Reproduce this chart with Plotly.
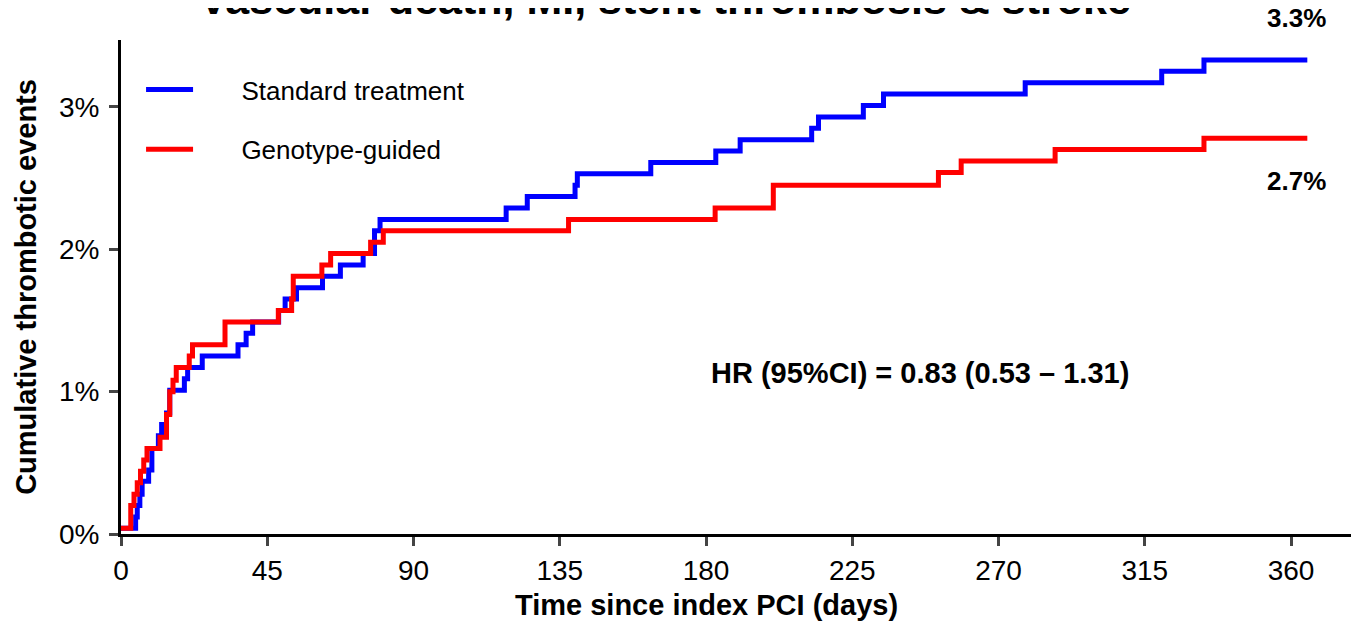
import plotly.graph_objects as go

# Standard treatment (blue) step curve: days, cumulative %
std_days = [0, 4.5, 5.0, 5.8, 6.5, 8.5, 9.5, 11.5, 12.5, 14, 15, 19.5, 20.5, 25, 36, 38.5, 40.5,
            48.5, 50.5, 54, 62, 67.5, 74.5, 78, 79.7, 118.5, 125, 139.7, 140.4, 163, 183,
            190.5, 212.5, 214.6, 228.4, 234.6, 278.2, 320.2, 333.2, 365]
std_pct = [0.04, 0.12, 0.20, 0.28, 0.37, 0.45, 0.60, 0.69, 0.77, 0.85, 1.01, 1.09, 1.17, 1.25,
           1.33, 1.41, 1.49, 1.57, 1.65, 1.73, 1.81, 1.89, 1.97, 2.13, 2.21, 2.29, 2.37, 2.45,
           2.53, 2.61, 2.69, 2.77, 2.85, 2.93, 3.01, 3.09, 3.17, 3.25, 3.33, 3.33]

# Genotype-guided (red) step curve
gen_days = [0, 3, 4, 5, 6, 7, 8, 12, 14, 15, 16, 17, 21, 22, 32, 48.4, 52.5, 53, 61.8, 64.5,
            76.8, 80.7, 137.7, 182.8, 200.7, 251.5, 258.5, 287.4, 333.2, 365]
gen_pct = [0.04, 0.20, 0.28, 0.36, 0.44, 0.52, 0.60, 0.68, 0.84, 1.00, 1.08, 1.17, 1.25, 1.33,
           1.49, 1.57, 1.65, 1.81, 1.89, 1.97, 2.05, 2.13, 2.21, 2.29, 2.45, 2.54, 2.62, 2.70,
           2.78, 2.78]

x_ticks = [0, 45, 90, 135, 180, 225, 270, 315, 360]
y_ticks = [0, 1, 2, 3]
y_tick_labels = ["0%", "1%", "2%", "3%"]

FONT = "Arial, Liberation Sans, sans-serif"

fig = go.Figure()
fig.add_trace(go.Scatter(x=std_days, y=std_pct, mode="lines", line_shape="hv",
                         line=dict(color="#0000FF", width=5),
                         name="      Standard treatment", legendgroup="a"))
fig.add_trace(go.Scatter(x=gen_days, y=gen_pct, mode="lines", line_shape="hv",
                         line=dict(color="#FF0000", width=5),
                         name="      Genotype-guided", legendgroup="b"))

fig.update_layout(
    width=1351, height=615,
    margin=dict(l=113, r=0, t=32, b=89),
    plot_bgcolor="white", paper_bgcolor="white",
    font=dict(family=FONT, color="black"),
    showlegend=True,
    legend=dict(x=0.0162, y=0.9474, xanchor="left", yanchor="top", font=dict(size=26),
                bgcolor="rgba(0,0,0,0)", tracegroupgap=23, itemwidth=47),
    xaxis=dict(range=[0, 380.9], tickvals=x_ticks, ticks="outside", ticklen=9, tickwidth=3,
               showline=True, linewidth=3, linecolor="black", showgrid=False, zeroline=False,
               tickfont=dict(size=28), automargin=False),
    yaxis=dict(range=[0, 3.47], tickvals=y_ticks, ticktext=y_tick_labels, ticks="outside",
               ticklen=9, tickwidth=3, showline=True, linewidth=3, linecolor="black",
               showgrid=False, zeroline=False, tickfont=dict(size=28), automargin=False,
               ticklabelstandoff=4,
               title=dict(text="<b>Cumulative thrombotic events</b>", font=dict(size=29), standoff=14)),
)

fig.add_annotation(text="<b>Time since index PCI (days)</b>", x=180, yref="paper", y=-0.1437,
                   yanchor="middle", xanchor="center", showarrow=False, font=dict(size=29))
fig.add_annotation(text="<b>Vascular death, MI, stent thrombosis & stroke</b>", xref="paper",
                   yref="paper", x=0.4394, xanchor="center", y=1.0, yshift=15, yanchor="bottom",
                   showarrow=False, font=dict(size=43))
fig.add_annotation(text="<b>3.3%</b>", x=361.8, yref="paper", y=1.0445, yanchor="middle",
                   showarrow=False, font=dict(size=26))
fig.add_annotation(text="<b>2.7%</b>", x=361.8, y=2.48, showarrow=False, font=dict(size=26))
fig.add_annotation(text="<b>HR (95%CI) = 0.83 (0.53 – 1.31)</b>", x=245.8, y=1.13,
                   showarrow=False, font=dict(size=29))

fig.write_html("out.html")
